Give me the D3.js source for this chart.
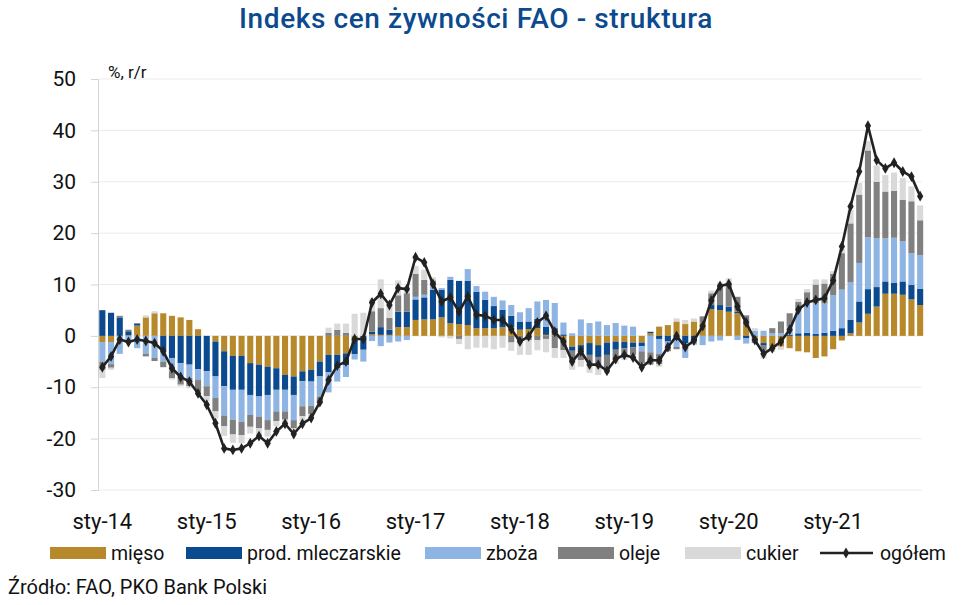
<!DOCTYPE html>
<html><head><meta charset="utf-8">
<script src="https://cdn.jsdelivr.net/npm/d3@7/dist/d3.min.js"></script>
<style>body{margin:0;background:#fff;} svg{display:block;font-family:Roboto, "Noto Sans", sans-serif;}</style>
</head><body><svg id="c" width="972" height="605"></svg>
<script>
// Monthly categories Jan 2014 – Nov 2021
const years = [2014,2015,2016,2017,2018,2019,2020,2021];
const months = [];
years.forEach(yr => { for (let m = 1; m <= 12; m++) { if (yr === 2021 && m > 11) break; months.push(yr + "-" + String(m).padStart(2,"0")); } });

const tickMonths = ["2014-01","2015-01","2016-01","2017-01","2018-01","2019-01","2020-01","2021-01"];
const tickLabels = ["sty-14","sty-15","sty-16","sty-17","sty-18","sty-19","sty-20","sty-21"];
const yTicks = [-30,-20,-10,0,10,20,30,40,50];

const seriesNames = ["mięso","prod. mleczarskie","zboża","oleje","cukier"];
const totalName = "ogółem";

const mieso = [
 -1.2,-1.2,0,0.1,2.0,3.6,4.4,4.4,3.9,3.6,3.1,1.3,
 0,-1.1,-3.0,-3.9,-3.9,-5.3,-5.6,-6.0,-6.3,-7.6,-7.9,-6.9,
 -6.6,-5.0,-3.7,-3.7,-3.4,-0.6,0,0.3,0.2,0.2,1.7,1.7,
 3.1,3.2,3.2,3.6,2.5,2.3,2.1,1.5,1.5,1.5,1.7,1.7,
 1.2,1.3,1.5,0.2,0.2,-0.8,-2.1,-1.8,-1.4,-1.8,-1.3,-1.1,
 -1.2,-1.3,-1.3,0.5,1.8,2.1,2.8,2.3,2.8,2.6,5.2,5.0,
 4.7,4.4,2.1,-0.5,-1.4,-2.1,-2.1,-2.4,-3.0,-3.2,-4.3,-4.0,
 -2.6,-0.9,0.5,2.6,4.3,5.7,8.2,8.2,8.0,7.1,6.0];
const mleczarskie = [
 5.0,4.5,3.6,0.8,0.4,0,0,-2.9,-4.3,-5.3,-5.6,-6.5,
 -6.9,-6.8,-6.8,-6.6,-6.6,-6.2,-6.2,-5.5,-4.2,-2.9,-3.6,-1.9,
 -2.3,-2.9,-3.4,-2.6,-2.3,-3.0,-2.7,0.5,1.5,1.0,3.0,3.0,
 4.0,4.3,5.8,5.4,8.4,8.4,8.6,7.1,5.5,4.3,3.4,2.2,
 1.5,1.5,1.8,1.6,1.3,0.3,-0.8,-1.0,-2.3,-2.3,-2.4,-1.6,
 -1.2,-0.9,-0.7,0.3,-0.6,-1.1,-0.8,-1.4,-1.1,0,0.8,1.0,
 1.0,0.3,-0.5,-0.4,-0.5,0,0,0.2,0.5,0.6,0.4,0.6,
 1.0,1.5,2.6,4.1,4.8,3.8,2.4,2.1,2.6,2.8,3.2];
const zboza = [
 -3.8,-4.3,-3.5,-0.8,-2.4,-3.5,-4.3,-2.1,-2.6,-2.9,-2.6,-2.1,
 -2.9,-4.2,-5.7,-5.8,-6.2,-3.9,-3.9,-4.9,-4.2,-4.2,-4.9,-4.9,
 -4.7,-3.9,-3.9,-2.6,-2.3,-1.0,-2.3,-1.0,-2.0,-1.3,-1.1,-0.8,
 0.5,0.5,0.8,0.3,0.6,0,2.3,1.1,1.6,1.8,1.8,2.1,
 1.9,2.6,3.4,5.2,4.9,2.3,0.5,3.2,2.5,2.8,2.1,2.5,
 2.0,1.8,-1.0,-3.2,-2.9,-1.3,-1.3,-2.9,-0.6,-1.8,-1.1,-0.9,
 0,-0.8,-1.0,1.0,1.0,0.5,0.5,1.6,4.5,6.0,6.0,5.7,
 6.9,7.5,7.3,7.5,10.1,9.5,8.4,8.8,7.8,6.2,6.5];
const oleje = [
 -1.6,-0.7,0.3,0.3,0.1,-0.5,-0.6,-1.1,-1.3,-1.3,-1.6,-2.3,
 -1.9,-2.6,-2.1,-2.9,-2.6,-2.3,-2.3,-1.9,-1.9,-1.6,-1.6,-1.9,
 -1.6,-1.2,0.6,1.2,0.6,0,0,4.0,3.7,2.3,3.2,3.6,
 4.5,2.9,1.0,0,0,-0.6,0,0,0,0,0,-1.3,
 -1.1,-0.8,-0.8,-0.6,-2.4,-2.0,-2.1,-1.9,-1.6,-1.9,-2.6,-1.9,
 -1.5,-1.5,-2.3,-2.4,-2.0,-0.6,-0.5,0,0,1.2,2.3,3.9,
 4.5,2.9,1.9,-0.5,-1.0,1.0,2.3,2.6,1.6,1.9,3.6,3.9,
 4.2,7.1,11.5,13.3,16.9,11.0,9.1,9.1,8.1,10.1,6.8];
const cukier = [
 -1.6,-0.4,0,-0.2,0,0.4,0.4,0,-0.3,-0.3,-0.4,-0.5,
 -1.0,-1.4,-1.9,-1.6,-1.6,-1.3,-1.3,-1.3,-1.0,-1.0,-0.6,-1.0,
 -0.5,0,1.0,1.2,1.8,4.3,4.5,2.5,5.6,2.6,2.9,1.3,
 1.5,2.0,0.6,-0.3,-0.5,-1.0,-2.6,-2.3,-2.3,-2.6,-2.3,-1.6,
 -2.6,-2.9,-2.0,-2.6,-1.9,-1.5,-1.6,-1.3,-1.9,-1.6,-1.0,-0.8,
 -0.8,-0.8,-0.5,0,-0.5,0,0.6,0.8,0.6,0,0.5,0.5,
 1.0,0,0,0.5,-1.5,-1.0,-0.6,0,0.6,0.6,1.0,0.8,
 0.5,0.8,2.6,2.3,1.8,3.2,3.2,3.6,4.2,2.9,2.9];
const ogolem = [
 -6.1,-4.0,-0.7,-1.2,-0.7,-1.0,-1.4,-3.0,-6.3,-8.0,-8.9,-11.2,
 -13.4,-17.0,-21.9,-22.2,-21.9,-20.9,-19.5,-20.9,-18.6,-17.1,-19.1,-17.1,
 -16.0,-12.9,-8.6,-5.8,-5.0,-0.6,-0.6,6.5,8.2,6.0,9.3,9.1,
 15.3,14.3,10.1,6.7,7.5,4.7,7.7,4.1,3.9,3.1,3.1,1.3,
 -1.1,-0.1,2.6,3.9,0.8,-1.1,-5.0,-3.0,-5.6,-5.6,-6.8,-4.5,
 -3.7,-4.2,-6.1,-4.7,-4.8,-2.2,0,-2.2,-0.9,1.9,6.9,9.7,
 10.1,5.7,2.6,-0.8,-3.5,-2.4,-1.1,1.2,5.1,6.5,7.0,7.3,
 10.8,17.4,25.2,32.0,40.9,34.2,32.6,33.7,32.0,31.0,27.2];

const colors = ["#b8892b","#0b4a8e","#8eb4e3","#808080","#d9d9d9"];
const lineColor = "#222222";

const table = months.map((m,i) => ({m, k0:mieso[i], k1:mleczarskie[i], k2:zboza[i], k3:oleje[i], k4:cukier[i], t:ogolem[i]}));
const keys = ["k0","k1","k2","k3","k4"];

const svg = d3.select("#c");
const pLeft = 98, pRight = 98 + 95*8.7, pTop = 79, pBottom = 490;

const x = d3.scaleBand().domain(months).range([pLeft, pRight]).paddingInner(0.3).paddingOuter(0.15);
const y = d3.scaleLinear().domain([-30, 50]).range([pBottom, pTop]);

// gridlines
svg.append("g").selectAll("line").data(yTicks).join("line")
  .attr("x1", pLeft).attr("x2", pRight-3).attr("y1", d=>y(d)).attr("y2", d=>y(d))
  .attr("stroke", "#ebebeb").attr("stroke-width", 1);

// y axis
const yAxis = d3.axisLeft(y).tickValues(yTicks).tickSize(7).tickPadding(15).tickFormat(d => String(d));
const gy = svg.append("g").attr("transform", `translate(${pLeft},0)`).call(yAxis);
gy.select(".domain").attr("stroke", "#d4d4d4");
gy.selectAll(".tick line").attr("stroke", "#d4d4d4");
gy.selectAll("text").attr("font-size", 21).attr("fill", "#111").attr("font-family", "Roboto, sans-serif");

// stacked bars
const stack = d3.stack().keys(keys).offset(d3.stackOffsetDiverging);
const layers = stack(table);
svg.append("g").selectAll("g").data(layers).join("g")
  .attr("fill", (d,i) => colors[i])
  .selectAll("rect").data(d => d).join("rect")
  .attr("x", d => x(d.data.m))
  .attr("width", x.bandwidth())
  .attr("y", d => y(Math.max(d[0], d[1])))
  .attr("height", d => Math.abs(y(d[0]) - y(d[1])));

// total line
const cx = m => x(m) + x.bandwidth()/2;
svg.append("path").datum(table)
  .attr("fill","none").attr("stroke", lineColor).attr("stroke-width", 2.6).attr("stroke-linejoin","round")
  .attr("d", d3.line().x(d => cx(d.m)).y(d => y(d.t)));
svg.append("g").selectAll("path").data(table).join("path")
  .attr("transform", d => `translate(${cx(d.m)},${y(d.t)})`)
  .attr("d", d3.symbol(d3.symbolDiamond, 34))
  .attr("fill", lineColor);

// x labels
const xa = svg.append("g");
xa.selectAll("text").data(tickMonths).join("text")
  .attr("x", (d) => cx(d)).attr("y", 521)
  .attr("text-anchor","middle").attr("dominant-baseline","central")
  .attr("font-size", 22).attr("fill","#111")
  .text((d,i) => tickLabels[i]);

// unit label
svg.append("text").attr("x", 108).attr("y", 72).attr("dominant-baseline","central")
  .attr("font-size", 17).attr("fill","#111").text("%, r/r");

// title
svg.append("text").attr("x", 476).attr("y", 18).attr("text-anchor","middle").attr("dominant-baseline","central")
  .attr("font-size", 28).attr("font-weight", 500).attr("letter-spacing", 0.6).attr("fill", "#0b4a8e")
  .text("Indeks cen żywności FAO - struktura");

// legend
const legX = [50, 186, 425, 558, 685];
const lg = svg.append("g");
seriesNames.forEach((n,i) => {
  lg.append("rect").attr("x", legX[i]).attr("y", 547).attr("width", 56).attr("height", 12).attr("fill", colors[i]);
  lg.append("text").attr("x", legX[i] + 61).attr("y", 553).attr("dominant-baseline","central")
    .attr("font-size", 19.5).attr("fill","#111").text(n);
});
lg.append("line").attr("x1", 820).attr("x2", 873).attr("y1", 553).attr("y2", 553).attr("stroke", lineColor).attr("stroke-width", 2.6);
lg.append("path").attr("transform","translate(846,553)").attr("d", d3.symbol(d3.symbolDiamond, 34)).attr("fill", lineColor);
lg.append("text").attr("x", 880).attr("y", 553).attr("dominant-baseline","central")
  .attr("font-size", 19.5).attr("fill","#111").text(totalName);

// source
svg.append("text").attr("x", 8).attr("y", 587).attr("dominant-baseline","central")
  .attr("font-size", 20).attr("fill","#111").text("Źródło: FAO, PKO Bank Polski");
</script></body></html>
